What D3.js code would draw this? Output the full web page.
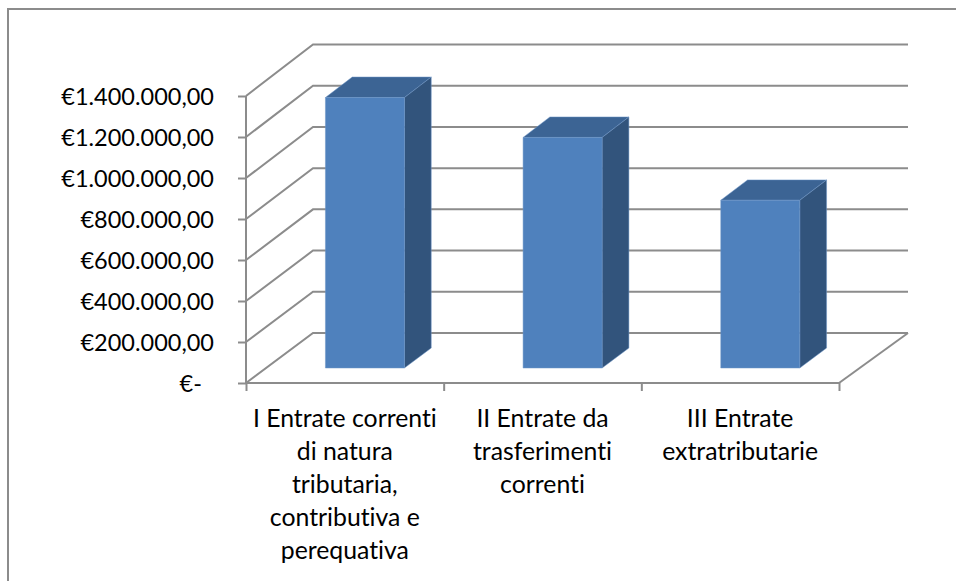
<!DOCTYPE html>
<html>
<head>
<meta charset="utf-8">
<script src="https://cdn.jsdelivr.net/npm/d3@7"></script>
<style>
  body { margin: 0; background: #fff; }
  text { font-family: Lato, "Open Sans", sans-serif; fill: #000; font-variant-ligatures: none; }
</style>
</head>
<body>
<svg id="chart" width="956" height="581"></svg>
<script>
const categoryLines = [
  ["I Entrate correnti", "di natura", "tributaria,", "contributiva e", "perequativa"],
  ["II Entrate da", "trasferimenti", "correnti"],
  ["III Entrate", "extratributarie"],
];
const values = [1317000, 1123000, 817000];
const tickValues = [0, 200000, 400000, 600000, 800000, 1000000, 1200000, 1400000];
const tickLabels = ["€-\u00a0\u00a0", "€200.000,00", "€400.000,00", "€600.000,00", "€800.000,00", "€1.000.000,00", "€1.200.000,00", "€1.400.000,00"];

const gridColor = "#8c8c8c";
const svg = d3.select("#chart");

// front plane of the box and back wall
const yFront = d3.scaleLinear().domain([0, 1400000]).range([383, 96]);
const yBack = d3.scaleLinear().domain([0, 1400000]).range([333, 44.5]);
const xBand = d3.scaleBand().domain(d3.range(values.length)).range([246, 839]);
const xEdge = d3.scaleLinear().domain([0, values.length]).range([246, 839]);
const depthX = 67;
const barWidth = 79;
const barFront = 0.3;
const barBack = 0.7;

// value + depth (0 front .. 1 back) to a screen point
function project(x, v, depth) {
  return [x + depthX * depth, yFront(v) + (yBack(v) - yFront(v)) * depth];
}

// chart frame, cut off by the picture on the right and bottom
svg.append("path")
  .attr("d", "M8,581V9H956")
  .attr("fill", "none")
  .attr("stroke", gridColor)
  .attr("stroke-width", 2);

// gridlines: side wall diagonal then back wall
svg.append("g").selectAll("path")
  .data(tickValues)
  .join("path")
  .attr("d", (d) => d3.line()([project(246, d, 0), project(246, d, 1), [908, yBack(d)]]))
  .attr("fill", "none")
  .attr("stroke", gridColor)
  .attr("stroke-width", 2);

// floor right edge
svg.append("path")
  .attr("d", d3.line()([project(839, 0, 0), [908, yBack(0)]]))
  .attr("stroke", gridColor)
  .attr("stroke-width", 2);

// Y axis
const yAxis = svg.append("g")
  .attr("transform", "translate(246,0)")
  .call(d3.axisLeft(yFront).tickValues(tickValues).tickSize(8).tickPadding(24)
    .tickFormat((d, i) => tickLabels[i]));
yAxis.selectAll("line, path").attr("stroke", gridColor).attr("stroke-width", 2);
yAxis.select(".domain").attr("d", "M0,96V383");
yAxis.selectAll("text").style("font-size", "23.5px").attr("dy", "0.37em");

// X axis, ticks sit between the categories
const xAxis = svg.append("g")
  .attr("transform", "translate(0,383)")
  .call(d3.axisBottom(xEdge).tickValues(d3.range(values.length + 1)).tickSize(8).tickFormat(""));
xAxis.selectAll("line, path").attr("stroke", gridColor).attr("stroke-width", 2);
xAxis.select(".domain").attr("d", "M246,0H839");

// bars
const bars = svg.append("g").selectAll("g")
  .data(values)
  .join("g");

function face(points, fill) {
  return (sel) => sel.append("path")
    .attr("d", (d, i) => d3.line()(points(d, xBand(i) + (xBand.bandwidth() - barWidth) / 2)) + "Z")
    .attr("fill", fill)
    .attr("stroke", "#6d94c6")
    .attr("stroke-width", 0.5)
    .attr("stroke-linejoin", "round");
}

bars.call(face((d, x) => [project(x, d, barFront), project(x, d, barBack), project(x + barWidth, d, barBack), project(x + barWidth, d, barFront)], "#3c6494"));
bars.call(face((d, x) => [project(x + barWidth, 0, barFront), project(x + barWidth, 0, barBack), project(x + barWidth, d, barBack), project(x + barWidth, d, barFront)], "#32547c"));
bars.call(face((d, x) => [project(x, 0, barFront), project(x + barWidth, 0, barFront), project(x + barWidth, d, barFront), project(x, d, barFront)], "#4f81bd"));

// category labels
svg.append("g").selectAll("text")
  .data(categoryLines)
  .join("text")
  .attr("text-anchor", "middle")
  .style("font-size", "24.8px")
  .each(function (lines, i) {
    d3.select(this).selectAll("tspan")
      .data(lines)
      .join("tspan")
      .attr("x", xBand(i) + xBand.bandwidth() / 2)
      .attr("y", (d, j) => 426.5 + j * 33)
      .text((d) => d);
  });
</script>
</body>
</html>
